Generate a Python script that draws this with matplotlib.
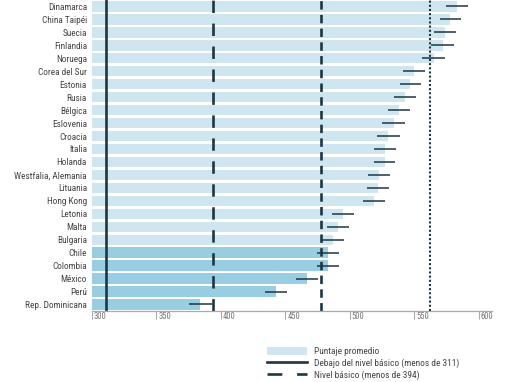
import matplotlib.pyplot as plt
import matplotlib.lines as mlines
import matplotlib.patches as mpatches
import matplotlib.transforms as mtrans
from matplotlib import font_manager

# ── Data ──────────────────────────────────────────────────────────────────────
COUNTRIES = [
    "Dinamarca", "China Taipéi", "Suecia", "Finlandia", "Noruega",
    "Corea del Sur", "Estonia", "Rusia", "Bélgica", "Eslovenia", "Croacia",
    "Italia", "Holanda", "Westfalia, Alemania", "Lituania", "Hong Kong",
    "Letonia", "Malta", "Bulgaria", "Chile", "Colombia", "México", "Perú",
    "Rep. Dominicana",
]
SCORES = [583, 578, 574, 572, 565, 550, 547, 543, 538, 534, 530, 527,
          527, 523, 522, 519, 495, 491, 487, 483, 483, 467, 443, 384]
ERRORS = [8.5, 8.4, 8.7, 8.8, 8.7, 8.4, 8.4, 8.5, 8.5, 8.7, 8.7, 8.5,
          8.4, 8.5, 8.7, 8.5, 8.5, 8.5, 8.7, 8.5, 8.4, 8.5, 8.7, 9.0]
LATAM = {"Chile", "Colombia", "México", "Perú", "Rep. Dominicana"}

LEVELS = [311, 394, 478, 562]
X_TICKS = [300, 350, 400, 450, 500, 550, 600]
LEGEND_LABELS = [
    "Puntaje promedio",
    "Debajo del nivel básico (menos de 311)",
    "Nivel básico (menos de 394)",
]

# ── Style ─────────────────────────────────────────────────────────────────────
LIGHT = "#cfe6f0"
DARK = "#98cde2"
NAVY = "#1d3644"


def pick_font():
    # prefer a condensed face, like the original
    for name in ["Liberation Sans Narrow", "DejaVu Sans Condensed",
                 "Roboto Condensed", "Open Sans Condensed", "Roboto"]:
        try:
            font_manager.findfont(font_manager.FontProperties(family=name),
                                  fallback_to_default=False)
            return name
        except ValueError:
            continue
    return "DejaVu Sans"


FONT = pick_font()
plt.rcParams["font.family"] = [FONT, "DejaVu Sans"]

fig = plt.figure(figsize=(5.1, 3.82), dpi=100)
ax = fig.add_axes([0.18, 0.186, 0.784, 0.814])

# size the labels so the longest one fits like in the reference (~72 px)
renderer = fig.canvas.get_renderer()
probe = fig.text(0, 0, "Westfalia, Alemania", fontsize=10)
w = probe.get_window_extent(renderer).width
probe.remove()
LABEL_FS = min(6.8, 10 * 72 / w)
LEGEND_FS = min(6.8, LABEL_FS * 1.02)

ypos = list(range(len(COUNTRIES)))
colors = [DARK if c in LATAM else LIGHT for c in COUNTRIES]
ax.barh(ypos, [s - 300 for s in SCORES], left=300, height=0.8,
        color=colors, zorder=1)

# reference level lines
ax.axvline(LEVELS[0], color=NAVY, lw=1.9, zorder=2)
ax.axvline(LEVELS[1], color=NAVY, lw=1.9, linestyle=(0, (4.7, 4.0)), zorder=2)
ax.axvline(LEVELS[2], color=NAVY, lw=1.9, linestyle=(0, (3.2, 2.0)), zorder=2)
ax.axvline(LEVELS[3], color=NAVY, lw=1.5, linestyle=(0, (1.0, 1.0)), zorder=2)

# confidence intervals
ax.errorbar(SCORES, ypos, xerr=ERRORS, fmt="none", ecolor=NAVY,
            elinewidth=1.1, capsize=0, zorder=3)

ax.set_xlim(300, 610)
ax.set_ylim(len(COUNTRIES) - 0.5, -0.5)

ax.set_yticks(ypos)
ax.set_yticklabels(COUNTRIES, fontsize=LABEL_FS, color="#444444")
ax.tick_params(axis="y", length=0, pad=3.5)

ax.set_xticks(X_TICKS)
ax.set_xticklabels([str(t) for t in X_TICKS], fontsize=LABEL_FS * 0.93,
                   color="#777777", ha="left")
ax.tick_params(axis="x", length=5.5, width=0.8, color="#aaaaaa", pad=-4.5)
offset = mtrans.ScaledTranslation(1.5 / 72, 0, fig.dpi_scale_trans)
for lab in ax.get_xticklabels():
    lab.set_transform(lab.get_transform() + offset)

for side in ["top", "right", "left"]:
    ax.spines[side].set_visible(False)
ax.spines["bottom"].set_color("#aaaaaa")
ax.spines["bottom"].set_linewidth(0.9)

# legend
handles = [
    mpatches.Patch(facecolor=LIGHT, edgecolor="none"),
    mlines.Line2D([], [], color=NAVY, lw=1.9),
    mlines.Line2D([], [], color=NAVY, lw=1.9, linestyle=(0, (5.6, 5.6))),
]
fig.legend(handles, LEGEND_LABELS, loc="upper left",
           bbox_to_anchor=(267 / 510, 1 - 347 / 382), frameon=False,
           fontsize=LEGEND_FS, handlelength=40 / (LEGEND_FS * 100 / 72),
           handleheight=0.9, handletextpad=0.7, labelspacing=0.25,
           borderaxespad=0, borderpad=0, labelcolor="#444444")

fig.savefig("out.png", dpi=100, facecolor="white")
